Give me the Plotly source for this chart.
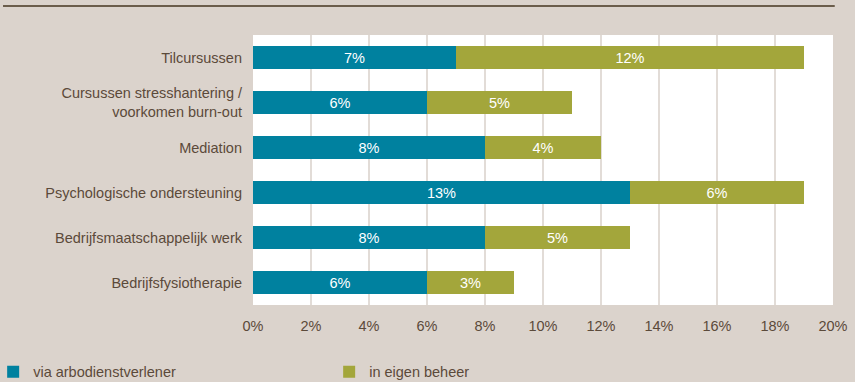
import plotly.graph_objects as go

categories = [
    "Tilcursussen",
    "Cursussen stresshantering /<br>voorkomen burn-out",
    "Mediation",
    "Psychologische ondersteuning",
    "Bedrijfsmaatschappelijk werk",
    "Bedrijfsfysiotherapie",
]
via_arbodienst = [7, 6, 8, 13, 8, 6]
eigen_beheer = [12, 5, 4, 6, 5, 3]
series_names = ["via arbodienstverlener", "in eigen beheer"]
series_colors = ["#00819F", "#A3A63B"]
x_ticks = [0, 2, 4, 6, 8, 10, 12, 14, 16, 18, 20]

text_color = "#5B4A3A"
bg_color = "#DBD3CC"
font_family = "Liberation Sans, Arial, sans-serif"
font_size = 14.5

fig = go.Figure()
for name, values, color in zip(series_names, [via_arbodienst, eigen_beheer], series_colors):
    fig.add_trace(go.Bar(
        y=categories,
        x=values,
        name=name,
        orientation="h",
        marker=dict(color=color, line=dict(width=0)),
        text=[f"{v}%" for v in values],
        textposition="inside",
        insidetextanchor="middle",
        textfont=dict(color="white", size=font_size, family=font_family),
        hoverinfo="skip",
    ))

fig.update_layout(
    barmode="stack",
    bargap=0.51,
    width=855,
    height=382,
    margin=dict(l=253, r=22, t=35, b=77, autoexpand=False),
    paper_bgcolor=bg_color,
    plot_bgcolor="white",
    font=dict(family=font_family, size=font_size, color=text_color),
    xaxis=dict(
        range=[0, 20],
        tickvals=x_ticks,
        ticktext=[f"{t}%" for t in x_ticks],
        showgrid=True,
        gridcolor="#E2DCD7",
        gridwidth=2,
        zeroline=False,
        showline=False,
        ticks="",
        ticklabelstandoff=10,
        automargin=False,
    ),
    yaxis=dict(
        autorange="reversed",
        showgrid=False,
        zeroline=False,
        ticks="",
        ticklabelstandoff=10,
        automargin=False,
    ),
    legend=dict(
        orientation="h",
        traceorder="normal",
        x=-0.448,
        xanchor="left",
        y=-0.188,
        yanchor="top",
        entrywidth=291,
        font=dict(size=font_size, color=text_color),
        bgcolor="rgba(0,0,0,0)",
    ),
    showlegend=True,
    uniformtext=dict(mode="show", minsize=font_size),
)

# rule along the top of the figure
fig.add_shape(
    type="line", xref="paper", yref="paper",
    x0=-0.431, x1=1.003, y0=1.107, y1=1.107,
    line=dict(color="#6B5D4B", width=2),
)

fig.write_html("out.html")
